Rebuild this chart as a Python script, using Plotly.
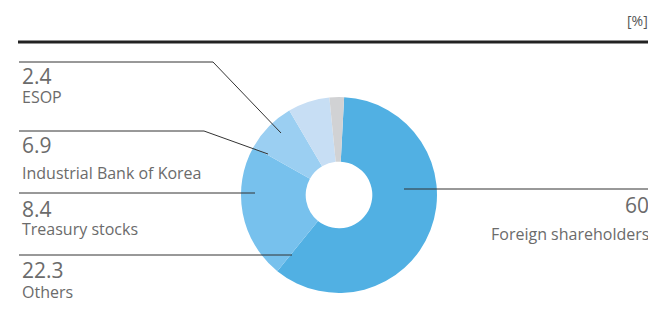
import plotly.graph_objects as go

# the page body has an 8px margin, so the figure is drawn 16px smaller
# and every position below is given in window pixels
W, H = 640, 317
OFF = 8

# shareholder composition [%]
labels = ["Foreign shareholders", "Others", "Treasury stocks",
          "Industrial Bank of Korea", "ESOP"]
values = [60, 22.3, 8.4, 6.9, 2.4]
colors = ["#51b0e3", "#77c1ed", "#9bcff2", "#c7def4", "#d1d2d4"]


def px(x):
    return (x - OFF) / W


def py(y):
    return 1 - (y - OFF) / H


fig = go.Figure(go.Pie(
    labels=labels, values=values, sort=False, direction="clockwise",
    rotation=3, hole=0.34, textinfo="none", hoverinfo="label+value",
    marker=dict(colors=colors, line=dict(width=0)),
    domain=dict(x=[px(241), px(437)], y=[py(293), py(97)]),
))

shapes = []
annotations = []

line_style = dict(color="#333333", width=1)
# leader lines
leaders = [
    [(19, 62), (213, 62), (281, 133)],   # ESOP
    [(19, 131), (204, 131), (268, 154)],  # IBK
    [(19, 193), (255, 193)],             # Treasury
    [(19, 255), (292, 255)],             # Others
    [(404, 189), (651, 189)],            # Foreign
]
for pts in leaders:
    for (x0, y0), (x1, y1) in zip(pts[:-1], pts[1:]):
        shapes.append(dict(type="line", xref="paper", yref="paper",
                           x0=px(x0), y0=py(y0), x1=px(x1), y1=py(y1),
                           line=line_style))

# header rule
shapes.append(dict(type="line", xref="paper", yref="paper",
                   x0=px(18), x1=px(650), y0=py(42), y1=py(42),
                   line=dict(color="#222222", width=3)))

num_font = dict(family="Open Sans", size=21, color="#6b6b6b")
lab_font = dict(family="Open Sans", size=16, color="#6b6b6b")

# (value index, number y-center, label y-center, x, anchor)
text_pos = [
    (4, 76, 97, 20, "left"),
    (3, 145, 173, 20, "left"),
    (2, 209, 229, 20, "left"),
    (1, 270, 292, 20, "left"),
    (0, 205, 234, 651, "right"),
]
for i, ny, ly, x, anchor in text_pos:
    annotations.append(dict(xref="paper", yref="paper", x=px(x), y=py(ny),
                            xanchor=anchor, yanchor="middle", showarrow=False,
                            text=f"{values[i]:g}", font=num_font))
    annotations.append(dict(xref="paper", yref="paper", x=px(x), y=py(ly),
                            xanchor=anchor, yanchor="middle", showarrow=False,
                            text=labels[i], font=lab_font))

annotations.append(dict(xref="paper", yref="paper", x=px(650), y=py(21),
                        xanchor="right", yanchor="middle", showarrow=False,
                        text="[%]", font=dict(family="Open Sans", size=14,
                                              color="#555555")))

fig.update_layout(
    width=W, height=H, margin=dict(l=0, r=0, t=0, b=0),
    paper_bgcolor="white", plot_bgcolor="white", showlegend=False,
    shapes=shapes, annotations=annotations,
)

fig.write_html("out.html")
